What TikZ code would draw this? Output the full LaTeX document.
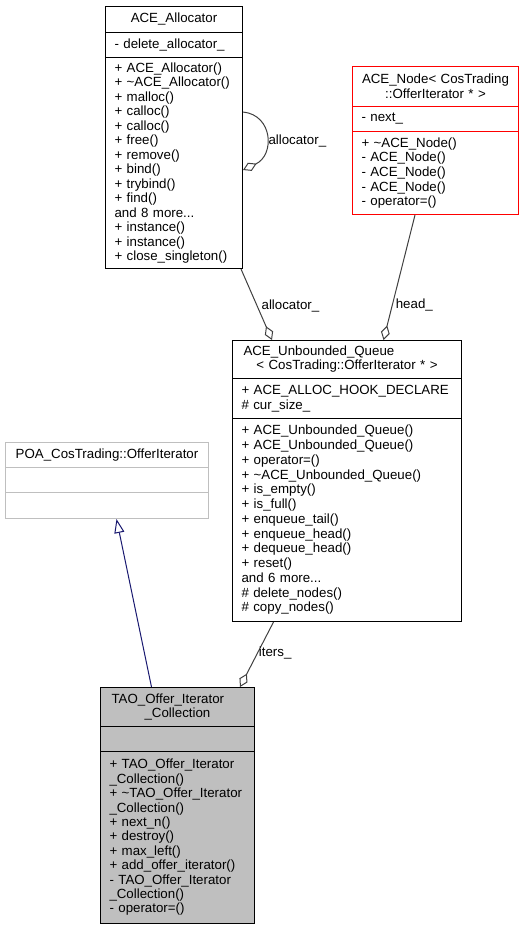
\documentclass[tikz,border=0pt]{standalone}
\usepackage{fontspec}
\setmainfont{Liberation Sans}
\usetikzlibrary{calc, arrows.meta}
\definecolor{edgegray}{HTML}{404040}
\definecolor{inheritblue}{HTML}{191970}
\definecolor{boxgray}{HTML}{BFBFBF}

\begin{document}
\begin{tikzpicture}
      [
        x=1pt, y=-1pt,
        classbox/.style={draw=black, line width=1pt, anchor=north west,
          inner xsep=9pt, inner ysep=0pt, font=\fontsize{13.3}{14}\selectfont},
        head/.style={classbox, inner xsep=4pt, align=center},
        members/.style={classbox, align=left, font=\fontsize{13.3}{#1}\selectfont},
        members/.default=14.6,
        aggr/.style={draw=edgegray, line width=1pt,
          -{Diamond[open, length=15pt, width=9pt, line width=1pt]}},
        inherit/.style={draw=inheritblue, line width=1pt,
          -{Triangle[open, length=14pt, width=10pt, line width=1pt]}},
        role/.style={font=\fontsize{13.3}{14}\selectfont, inner sep=2pt}
      ]
      \useasboundingbox (0,0) rectangle (523,931);
      % ACE_Allocator
      \node [head, text width=129pt, minimum height=26pt] (alloc) at (105,6) {ACE\_Allocator};
      \node [members, text width=119pt, minimum height=25pt] (allocAttr) at (105,32) {- delete\_allocator\_};
      \node [members=14.5, text width=119pt, minimum height=211pt] (allocOps) at (105,57)
        {+ ACE\_Allocator()\\+ \textasciitilde ACE\_Allocator()\\+ malloc()\\+ calloc()\\+ calloc()\\
         + free()\\+ remove()\\+ bind()\\+ trybind()\\+ find()\\and 8 more...\\
         + instance()\\+ instance()\\+ close\_singleton()};
      % ACE_Node
      \node [head, draw=red, text width=158pt, minimum height=40pt, font=\fontsize{13.3}{15}\selectfont] (acenode) at (352,66)
        {ACE\_Node< CosTrading\\::OfferIterator * >};
      \node [members, draw=red, text width=148pt, minimum height=25pt] (acenodeAttr) at (352,106) {- next\_};
      \node [members, draw=red, text width=148pt, minimum height=83pt] (acenodeOps) at (352,131)
        {+ \textasciitilde ACE\_Node()\\- ACE\_Node()\\- ACE\_Node()\\- ACE\_Node()\\- operator=()};
      % ACE_Unbounded_Queue
      \node [head, text width=221pt, minimum height=38pt] (queue) at (232,340)
        {\makebox[221pt][l]{\hspace{7pt}ACE\_Unbounded\_Queue}\\< CosTrading::OfferIterator * >};
      \node [members=15, text width=211pt, minimum height=40pt] (queueAttr) at (232,378)
        {+ ACE\_ALLOC\_HOOK\_DECLARE\\\# cur\_size\_};
      \node [members=14.75, text width=211pt, minimum height=203pt] (queueOps) at (232,418)
        {+ ACE\_Unbounded\_Queue()\\+ ACE\_Unbounded\_Queue()\\+ operator=()\\
         + \textasciitilde ACE\_Unbounded\_Queue()\\+ is\_empty()\\+ is\_full()\\
         + enqueue\_tail()\\+ enqueue\_head()\\+ dequeue\_head()\\+ reset()\\
         and 6 more...\\\# delete\_nodes()\\\# copy\_nodes()};
      % POA_CosTrading::OfferIterator
      \node [head, draw=boxgray, text width=195pt, minimum height=25pt] (poa) at (5,442) {POA\_CosTrading::OfferIterator};
      \node [members, draw=boxgray, text width=185pt, minimum height=25pt] (poaAttr) at (5,467) {};
      \node [members, draw=boxgray, text width=185pt, minimum height=26pt] (poaOps) at (5,492) {};
      % TAO_Offer_Iterator_Collection
      \node [head, fill=boxgray, text width=146pt, minimum height=39pt] (tao) at (100,687)
        {\makebox[146pt][l]{\hspace{7pt}TAO\_Offer\_Iterator}\\\_Collection};
      \node [members, fill=boxgray, text width=136pt, minimum height=25pt] (taoAttr) at (100,726) {};
      \node [members=14.4, fill=boxgray, text width=136pt, minimum height=172pt] (taoOps) at (100,751)
        {+ TAO\_Offer\_Iterator\\\_Collection()\\+ \textasciitilde TAO\_Offer\_Iterator\\\_Collection()\\
         + next\_n()\\+ destroy()\\+ max\_left()\\+ add\_offer\_iterator()\\
         - TAO\_Offer\_Iterator\\\_Collection()\\- operator=()};
      % edges
      \draw [aggr] ($(allocOps.north east)+(0,55)$) .. controls +(30,3) and +(32,-15) ..
        node [pos=0.56, right, role] {allocator\_} ($(allocOps.north east)+(0,113)$);
      \draw [aggr] ($(allocOps.south east)+(-2,0)$) --
        node [pos=0.52, right, role, inner sep=4pt] {allocator\_} ($(queue.north west)+(40,0)$);
      \draw [aggr] ($(acenodeOps.south west)+(63,0)$) --
        node [pos=0.72, right, role, inner sep=3pt] {head\_} ($(queue.north west)+(151.5,0)$);
      \draw [aggr] ($(queueOps.south west)+(41.5,0)$) --
        node [pos=0.48, right, role, inner sep=1pt] {iters\_} ($(tao.north west)+(140,0)$);
      \draw [inherit] ($(tao.north west)+(51.5,0)$) -- ($(poaOps.south west)+(111.5,0)$);
    \end{tikzpicture}
\end{document}
